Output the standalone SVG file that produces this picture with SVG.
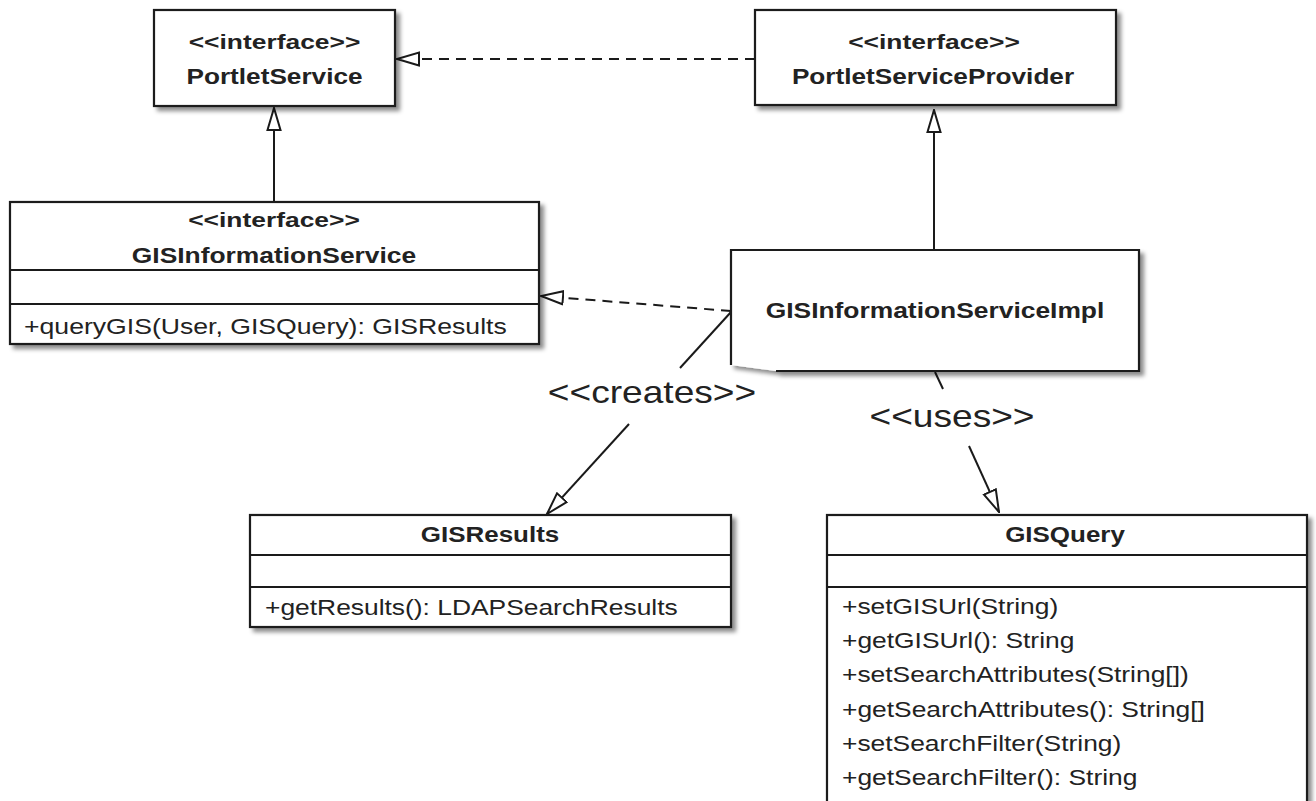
<svg xmlns="http://www.w3.org/2000/svg" width="1316" height="801" viewBox="0 0 1316 801">
  <defs>
    <filter id="shadow" x="-5%" y="-5%" width="115%" height="120%">
      <feDropShadow dx="4" dy="4" stdDeviation="2.2" flood-color="#000" flood-opacity="0.45"/>
    </filter>
    <!-- hollow triangle head for generalization / realization / dependency ends -->
    <marker id="hollow" viewBox="0 0 24 16" refX="23" refY="8" markerWidth="24" markerHeight="16" markerUnits="userSpaceOnUse" orient="auto">
      <path d="M1,1.5 L23,8 L1,14.5 Z" fill="#fff" stroke="#1a1a1a" stroke-width="2" stroke-dasharray="none" stroke-linejoin="miter"/>
    </marker>
    <style>
      .box { fill: #fff; stroke: #1a1a1a; stroke-width: 2.2; }
      .sep { stroke: #1a1a1a; stroke-width: 2; fill: none; }
      .t { font-family: "Liberation Sans", Arial, Helvetica, sans-serif; fill: #222; }
      .b { font-weight: bold; font-size: 22px; }
      .st { font-weight: bold; font-size: 20px; }
      .m { font-size: 22px; }
      .lbl { font-size: 32px; fill: #222; }
      .c { text-anchor: middle; }
      .edge { stroke: #1a1a1a; stroke-width: 2; fill: none; }
      .dash { stroke-dasharray: 10 7; }
    </style>
  </defs>

  <rect x="0" y="0" width="1316" height="801" fill="#fff"/>

  <!-- connectors -->
  <g id="connectors">
    <!-- PortletServiceProvider realizes PortletService -->
    <line class="edge dash" x1="755" y1="59" x2="397" y2="59" marker-end="url(#hollow)"/>
    <!-- GISInformationService extends PortletService -->
    <line class="edge" x1="274" y1="202" x2="274" y2="108" marker-end="url(#hollow)"/>
    <!-- Impl extends PortletServiceProvider -->
    <line class="edge" x1="934" y1="250" x2="934" y2="110" marker-end="url(#hollow)"/>
    <!-- Impl realizes GISInformationService -->
    <line class="edge dash" x1="731" y1="311" x2="541" y2="296" marker-end="url(#hollow)"/>
    <!-- <<creates>> -->
    <line class="edge" x1="731" y1="312" x2="680" y2="368"/>
    <line class="edge" x1="629" y1="424" x2="547" y2="514" marker-end="url(#hollow)"/>
    <text class="t lbl c" transform="translate(652 403) scale(1.16 1)">&lt;&lt;creates&gt;&gt;</text>
    <!-- <<uses>> -->
    <line class="edge" x1="935" y1="372" x2="943" y2="389"/>
    <line class="edge" x1="969" y1="446" x2="999" y2="512" marker-end="url(#hollow)"/>
    <text class="t lbl c" transform="translate(952 427) scale(1.16 1)">&lt;&lt;uses&gt;&gt;</text>
  </g>

  <g id="PortletService">
    <rect class="box" x="154" y="10" width="241" height="96" filter="url(#shadow)"/>
    <text class="t st c" transform="translate(274.5 49) scale(1.32 1)">&lt;&lt;interface&gt;&gt;</text>
    <text class="t b c" transform="translate(274.5 84) scale(1.19 1)">PortletService</text>
  </g>

  <g id="PortletServiceProvider">
    <rect class="box" x="755" y="10" width="361" height="95" filter="url(#shadow)"/>
    <text class="t st c" transform="translate(934 49) scale(1.32 1)">&lt;&lt;interface&gt;&gt;</text>
    <text class="t b c" transform="translate(933 84) scale(1.19 1)">PortletServiceProvider</text>
  </g>

  <g id="GISInformationService">
    <rect class="box" x="10" y="202" width="529" height="142" filter="url(#shadow)"/>
    <line class="sep" x1="10" y1="270" x2="539" y2="270"/>
    <line class="sep" x1="10" y1="304" x2="539" y2="304"/>
    <text class="t st c" transform="translate(274 227) scale(1.32 1)">&lt;&lt;interface&gt;&gt;</text>
    <text class="t b c" transform="translate(274 263) scale(1.2 1)">GISInformationService</text>
    <text class="t m" transform="translate(24 334) scale(1.21 1)">+queryGIS(User, GISQuery): GISResults</text>
  </g>

  <g id="GISInformationServiceImpl">
    <rect x="731" y="250" width="408" height="121" fill="#fff"/>
    <path class="box" d="M731,365 L731,250 L1139,250 L1139,371 L776,371" fill="none" filter="url(#shadow)"/>
    <text class="t b c" transform="translate(935 318) scale(1.2 1)">GISInformationServiceImpl</text>
  </g>

  <g id="GISResults">
    <rect class="box" x="250" y="515" width="481" height="112" filter="url(#shadow)"/>
    <line class="sep" x1="250" y1="555" x2="731" y2="555"/>
    <line class="sep" x1="250" y1="587" x2="731" y2="587"/>
    <text class="t b c" transform="translate(490 542) scale(1.18 1)">GISResults</text>
    <text class="t m" transform="translate(265 615) scale(1.2 1)">+getResults(): LDAPSearchResults</text>
  </g>

  <g id="GISQuery">
    <rect class="box" x="827" y="515" width="480" height="300" filter="url(#shadow)"/>
    <line class="sep" x1="827" y1="555" x2="1307" y2="555"/>
    <line class="sep" x1="827" y1="587" x2="1307" y2="587"/>
    <text class="t b c" transform="translate(1065 542) scale(1.18 1)">GISQuery</text>
    <text class="t m" transform="translate(842 614) scale(1.2 1)">+setGISUrl(String)</text>
    <text class="t m" transform="translate(842 648) scale(1.2 1)">+getGISUrl(): String</text>
    <text class="t m" transform="translate(842 682) scale(1.2 1)">+setSearchAttributes(String[])</text>
    <text class="t m" transform="translate(842 717) scale(1.2 1)">+getSearchAttributes(): String[]</text>
    <text class="t m" transform="translate(842 751) scale(1.2 1)">+setSearchFilter(String)</text>
    <text class="t m" transform="translate(842 785) scale(1.2 1)">+getSearchFilter(): String</text>
  </g>
</svg>
